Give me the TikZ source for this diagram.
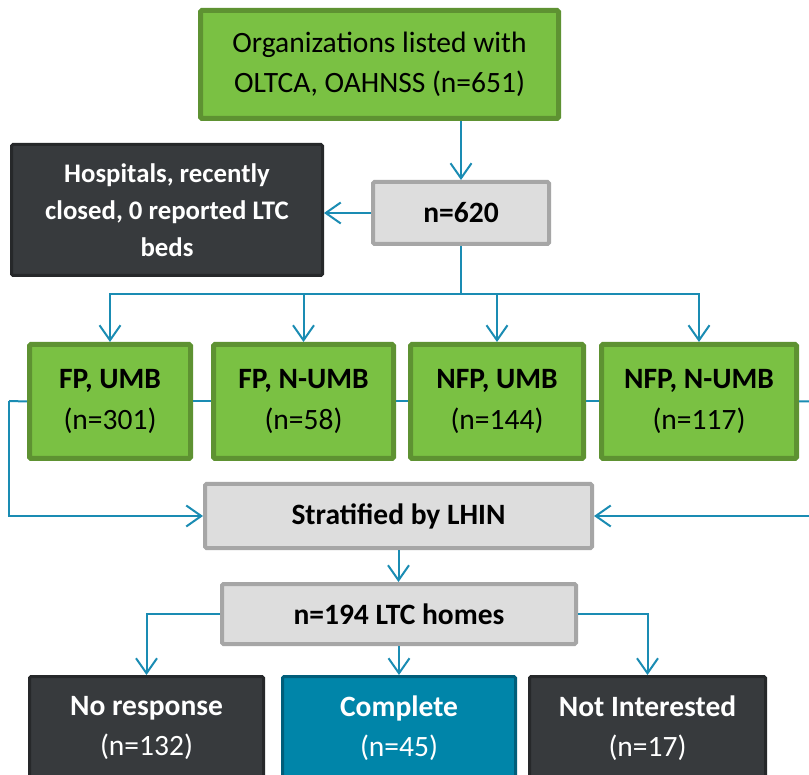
\documentclass[tikz,border=0pt]{standalone}
\usepackage{fontspec}
\setmainfont{Carlito}
\usetikzlibrary{arrows.meta}
\definecolor{gfill}{HTML}{7AC143}
\definecolor{gline}{HTML}{5E9232}
\definecolor{grfill}{HTML}{DDDDDD}
\definecolor{grline}{HTML}{A6A6A6}
\definecolor{dfill}{HTML}{373A3D}
\definecolor{dline}{HTML}{26282A}
\definecolor{tfill}{HTML}{0085A9}
\definecolor{tline}{HTML}{005E7A}
\definecolor{conncol}{HTML}{1A8CB3}
\tikzset{
  boxbase/.style={rectangle, inner sep=0pt, align=center, rounded corners=1.5pt},
  greenbox/.style={boxbase, fill=gfill, draw=gline, line width=5pt, text=black},
  graybox/.style={boxbase, fill=grfill, draw=grline, line width=4pt, text=black},
  darkbox/.style={boxbase, fill=dfill, draw=dline, line width=3pt, text=white},
  tealbox/.style={boxbase, fill=tfill, draw=tline, line width=3pt, text=white},
  big/.style={font=\fontsize{29.5}{40.5}\selectfont},
  smallf/.style={font=\fontsize{26.8}{37}\selectfont\bfseries},
  conn/.style={draw=conncol, line width=2pt},
  arr/.style={conn, -{Straight Barb[length=15pt,width=21pt,line width=2pt]}}
}
\begin{document}
\begin{tikzpicture}[x=1pt,y=-1pt]
\useasboundingbox (0,0) rectangle (809,775);
\fill[white] (0,0) rectangle (809,775);

\node[greenbox, big, minimum width=358pt, minimum height=108pt] (top) at (379.5,64.5)
  {Organizations listed with\\OLTCA, OAHNSS (n=651)};
\node[graybox, big, minimum width=176pt, minimum height=62pt] (n620) at (461,213) {\textbf{n=620}};
\node[darkbox, smallf, minimum width=311pt, minimum height=131pt] (hosp) at (167,210)
  {Hospitals, recently\\closed, 0 reported LTC\\beds};

\node[greenbox, big, minimum width=161pt, minimum height=114pt] (g1) at (110,401.5) {\textbf{FP, UMB}\\(n=301)};
\node[greenbox, big, minimum width=180pt, minimum height=114pt] (g2) at (303.5,401.5) {\textbf{FP, N-UMB}\\(n=58)};
\node[greenbox, big, minimum width=173pt, minimum height=114pt] (g3) at (497,401.5) {\textbf{NFP, UMB}\\(n=144)};
\node[greenbox, big, minimum width=195pt, minimum height=114pt] (g4) at (699,401.5) {\textbf{NFP, N-UMB}\\(n=117)};

\node[graybox, big, minimum width=387pt, minimum height=64pt] (strat) at (398.5,516) {\textbf{Stratified by LHIN}};
\node[graybox, big, minimum width=354pt, minimum height=60pt] (n194) at (399,614) {\textbf{n=194 LTC homes}};

\node[darkbox, big, minimum width=234pt, minimum height=103pt] (nr) at (146.5,728) {\textbf{No response}\\(n=132)};
\node[tealbox, big, minimum width=233pt, minimum height=103pt] (comp) at (399,728) {\textbf{Complete}\\(n=45)};
\node[darkbox, big, minimum width=236pt, minimum height=103pt] (ni) at (647.5,728) {\textbf{Not Interested}\\(n=17)};

\coordinate (split) at (461,294);
\coordinate (lft) at (9,401);
\coordinate (rgt) at (820,401);

\draw[arr] (top.south -| n620.north) -- (n620.north);
\draw[arr] (n620.west) -- (n620.west -| hosp.east);
\draw[conn] (n620.south) -- (split);
\draw[arr] (split) -| (g1.north);
\draw[arr] (split) -| (g2.north);
\draw[arr] (split) -| (g3.north);
\draw[arr] (split) -| (g4.north);

\draw[conn] (g1.east) -- (g2.west);
\draw[conn] (g2.east) -- (g3.west);
\draw[conn] (g3.east) -- (g4.west);
\draw[conn] (g1.west) -- (lft);
\draw[arr] (lft) |- (strat.west);
\draw[conn] (g4.east) -- (rgt);
\draw[arr] (rgt) |- (strat.east);

\draw[arr] (strat.south) -- (strat.south |- n194.north);
\draw[arr] (n194.west) -| (nr.north);
\draw[arr] (n194.south -| comp.north) -- (comp.north);
\draw[arr] (n194.east) -| (ni.north);
\end{tikzpicture}
\end{document}
